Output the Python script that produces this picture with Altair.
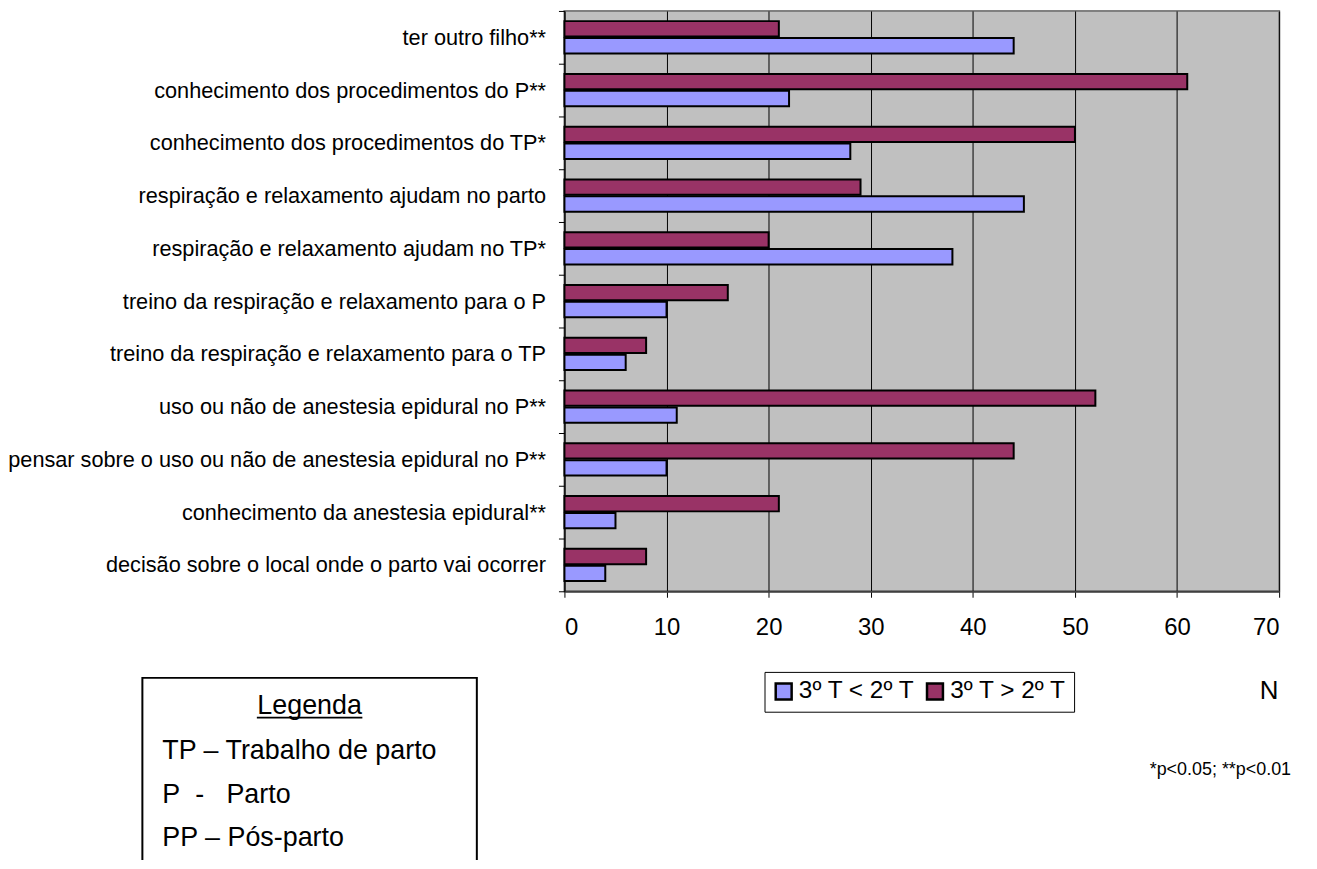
import altair as alt
import pandas as pd

categories = [
    "ter outro filho**",
    "conhecimento dos procedimentos do P**",
    "conhecimento dos procedimentos do  TP*",
    "respiração e relaxamento ajudam no parto",
    "respiração e relaxamento ajudam no TP*",
    "treino da respiração e relaxamento para o P",
    "treino da respiração e relaxamento para o TP",
    "uso ou não de anestesia epidural no P**",
    "pensar sobre o uso ou não de anestesia epidural no P**",
    "conhecimento da anestesia epidural**",
    "decisão sobre o local onde o parto vai ocorrer",
]
serie_menor = "3º T < 2º T"
serie_maior = "3º T > 2º T"
valores_menor = [44, 22, 28, 45, 38, 10, 6, 11, 10, 5, 4]
valores_maior = [21, 61, 50, 29, 20, 16, 8, 52, 44, 21, 8]
x_ticks = [0, 10, 20, 30, 40, 50, 60, 70]

rows = []
for c, a, b in zip(categories, valores_menor, valores_maior):
    rows.append({"cat": c, "serie": serie_maior, "value": b})
    rows.append({"cat": c, "serie": serie_menor, "value": a})
df = pd.DataFrame(rows)

FONT = "Liberation Sans"

bars = alt.Chart(df).mark_bar(stroke="black", strokeWidth=2).encode(
    x=alt.X(
        "value:Q",
        scale=alt.Scale(domain=[0, 70], nice=False),
        axis=alt.Axis(
            values=x_ticks, title=None, grid=True, gridColor="#000000", gridWidth=1,
            tickSize=6, tickColor="#000000", labelFontSize=24, labelPadding=18,
            domainColor="#404040", domainWidth=2, labelColor="black", labelFont=FONT,
        ),
    ),
    y=alt.Y(
        "cat:N", sort=categories,
        scale=alt.Scale(paddingInner=0, paddingOuter=0),
        axis=alt.Axis(
            title=None, tickBand="extent", tickSize=6, tickColor="black",
            labelFontSize=21.8, labelPadding=13, domainColor="black", domainWidth=1,
            labelLimit=0, labelColor="black", labelFont=FONT,
        ),
    ),
    yOffset=alt.YOffset(
        "serie:N", sort=[serie_maior, serie_menor],
        scale=alt.Scale(paddingInner=0.09, paddingOuter=0.6),
    ),
    color=alt.Color(
        "serie:N",
        scale=alt.Scale(domain=[serie_menor, serie_maior], range=["#9999FF", "#993366"]),
        legend=alt.Legend(
            title=None, orient="none", legendX=201, legendY=664, direction="horizontal",
            strokeColor="black", fillColor="white", padding=7, symbolType="square",
            symbolSize=256, symbolStrokeColor="black", symbolStrokeWidth=2.5,
            labelFontSize=24.5, labelFont=FONT, labelColor="black", columnPadding=6,
            labelOffset=3, symbolOpacity=1,
        ),
    ),
)

one = pd.DataFrame({"k": [0]})

box = alt.Chart(one).mark_rect(fill="white", stroke="black", strokeWidth=2).encode(
    x=alt.value(-424), x2=alt.value(-88), y=alt.value(670), y2=alt.value(900)
)
underline = alt.Chart(one).mark_rule(color="black", strokeWidth=1.8).encode(
    x=alt.value(-309), x2=alt.value(-203), y=alt.value(710)
)


def txt(text, x, y, size=27, align="left"):
    return alt.Chart(one).mark_text(
        text=text, align=align, baseline="middle", fontSize=size, font=FONT, color="black"
    ).encode(x=alt.value(x), y=alt.value(y))


texts = [
    txt("Legenda", -256, 698, align="center"),
    txt("TP – Trabalho de parto", -404, 743),
    txt("P\u00a0\u00a0-\u00a0\u00a0\u00a0Parto", -404, 788),
    txt("PP – Pós-parto", -404, 831),
    txt("N", 708, 683, size=26, align="center"),
    txt("*p<0.05; **p<0.01", 730, 763, size=18, align="right"),
]

chart = alt.layer(bars, box, underline, *texts).properties(
    width=718, height=583,
    autosize=alt.AutoSizeParams(type="none"),
    padding={"left": 559, "top": 1, "right": 30, "bottom": 268},
).configure(font=FONT).configure_view(
    fill="#C0C0C0", stroke="#808080", strokeWidth=2
)

chart.save("out.html", embed_options={"renderer": "svg", "actions": False})
